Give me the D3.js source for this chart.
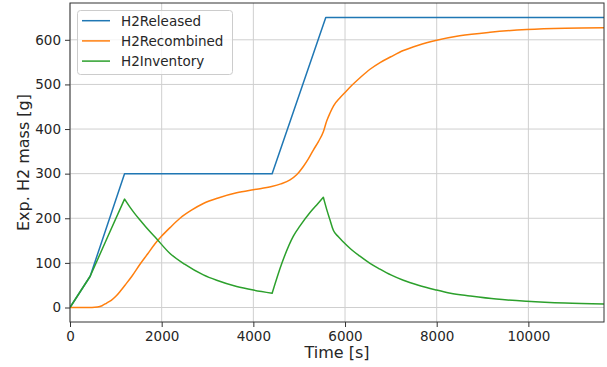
<!DOCTYPE html>
<html><head><meta charset="utf-8">
<script src="https://cdn.jsdelivr.net/npm/d3@7"></script>
<style>body{margin:0;background:#fff}text{font-family:"DejaVu Sans",sans-serif}</style>
</head><body><svg id="c" width="607" height="367"></svg>
<script>
const xTicks = [0, 2000, 4000, 6000, 8000, 10000];
const yTicks = [0, 100, 200, 300, 400, 500, 600];
const seriesNames = ["H2Released", "H2Recombined", "H2Inventory"];
const seriesColors = ["#1f77b4", "#ff7f0e", "#2ca02c"];
const releasedT = [0, 440, 1190, 4410, 5580, 11650];
const releasedV = [0, 70, 300, 300, 650, 650];
const recombT = [0,480,600,700,800,900,1000,1100,1200,1350,1527,1700,1855,2000,2182,2400,2650,2909,3250,3636,4000,4400,4600,4800,4950,5091,5200,5309,5420,5527,5600,5673,5750,5891,6000,6150,6327,6545,6764,7000,7273,7600,8000,8500,9164,9964,10800,11650];
const recombV = [0,0,1,4,10,16,25,37,50,70,97,121,143,160,179,200,218,233,246,257,264,271,277,286,298,316,333,353,372,394,418,436,452,470,482,498,515,534,549,562,576,588,599,609,617,623,626,627];
const invT = [0,440,820,1190,1300,1400,1527,1650,1855,2182,2500,2909,3200,3636,4000,4410,4618,4873,5018,5236,5382,5527,5545,5600,5673,5745,5850,5964,6150,6327,6545,6764,7000,7273,7600,7964,8300,8727,9300,9964,10800,11650];
const invV = [0,70,158,243,226,212,196,181,158,121,97,73,61,47,39,32,98,160,183,213,230,247,240,220,196,173,159,147,129,115,99,86,73,61,50,40,32,26,19,14,10,8];
// times at which the inventory curve has a sharp corner
const invCorners = [440, 1190, 4410, 5527, 5545];

const svg = d3.select("#c");
const L = 70, R = 604, T = 3, B = 322;
const x = d3.scaleLinear().domain([0, 11650]).range([L, R]);
const y = d3.scaleLinear().domain([-32.5, 682.5]).range([B, T]);

// grid
svg.append("g").selectAll("line").data(xTicks).join("line")
  .attr("x1", d => x(d)).attr("x2", d => x(d)).attr("y1", T).attr("y2", B)
  .attr("stroke", "#cfcfcf").attr("stroke-width", 1);
svg.append("g").selectAll("line").data(yTicks).join("line")
  .attr("x1", L).attr("x2", R).attr("y1", d => y(d)).attr("y2", d => y(d))
  .attr("stroke", "#cfcfcf").attr("stroke-width", 1);

// axes
const xa = svg.append("g").attr("transform", `translate(0,${B})`)
  .call(d3.axisBottom(x).tickValues(xTicks).tickFormat(d3.format("d")).tickSize(5).tickPadding(4));
const ya = svg.append("g").attr("transform", `translate(${L},0)`)
  .call(d3.axisLeft(y).tickValues(yTicks).tickFormat(d3.format("d")).tickSize(5).tickPadding(4));
[xa, ya].forEach(g => {
  g.select(".domain").remove();
  g.selectAll("line").attr("stroke", "#333");
  g.selectAll("text").attr("font-size", "13.5px").attr("fill", "#262626").attr("font-family", "DejaVu Sans");
});

svg.append("clipPath").attr("id", "cp").append("rect")
  .attr("x", L).attr("y", T).attr("width", R - L).attr("height", B - T);

const lineLin = d3.line().x(p => x(p[0])).y(p => y(p[1]));
const lineSmooth = d3.line().x(p => x(p[0])).y(p => y(p[1])).curve(d3.curveMonotoneX);

function drawPath(d, color) {
  svg.append("path").attr("d", d)
    .attr("fill", "none").attr("stroke", color).attr("stroke-width", 1.5)
    .attr("stroke-linejoin", "round").attr("clip-path", "url(#cp)");
}

// released
drawPath(lineLin(releasedT.map((t, i) => [t, releasedV[i]])), seriesColors[0]);
// recombined
drawPath(lineSmooth(recombT.map((t, i) => [t, recombV[i]])), seriesColors[1]);
// inventory: smooth pieces joined at sharp corners
const invPts = invT.map((t, i) => [t, invV[i]]);
const segs = [];
let cur = [];
invPts.forEach(p => {
  cur.push(p);
  if (invCorners.includes(p[0])) { segs.push(cur); cur = [p]; }
});
if (cur.length > 1) segs.push(cur);
const invPath = segs.map((s, k) => {
  const d = lineSmooth(s);
  return k === 0 ? d : "L" + d.slice(1);
}).join("");
drawPath(invPath, seriesColors[2]);

// frame
svg.append("rect").attr("x", L).attr("y", T).attr("width", R - L).attr("height", B - T)
  .attr("fill", "none").attr("stroke", "#333").attr("stroke-width", 1);

// legend
const lg = svg.append("g");
lg.append("rect").attr("x", 77.5).attr("y", 10.5).attr("width", 155).attr("height", 64)
  .attr("rx", 3).attr("fill", "#fff").attr("fill-opacity", 0.8).attr("stroke", "#ccc");
seriesNames.forEach((n, i) => {
  const cy = 20.7 + i * 20.2;
  lg.append("line").attr("x1", 82).attr("x2", 110).attr("y1", cy).attr("y2", cy)
    .attr("stroke", seriesColors[i]).attr("stroke-width", 1.5);
  lg.append("text").attr("x", 121).attr("y", cy).attr("dy", "0.36em")
    .attr("font-size", "13.5px").attr("fill", "#262626").text(n);
});

// axis labels
svg.append("text").attr("x", (L + R) / 2).attr("y", 358).attr("text-anchor", "middle")
  .attr("font-size", "16px").attr("fill", "#262626").text("Time [s]");
svg.append("text").attr("transform", `translate(29,${(T + B) / 2}) rotate(-90)`)
  .attr("text-anchor", "middle").attr("font-size", "16px").attr("fill", "#262626").text("Exp. H2 mass [g]");
</script></body></html>
